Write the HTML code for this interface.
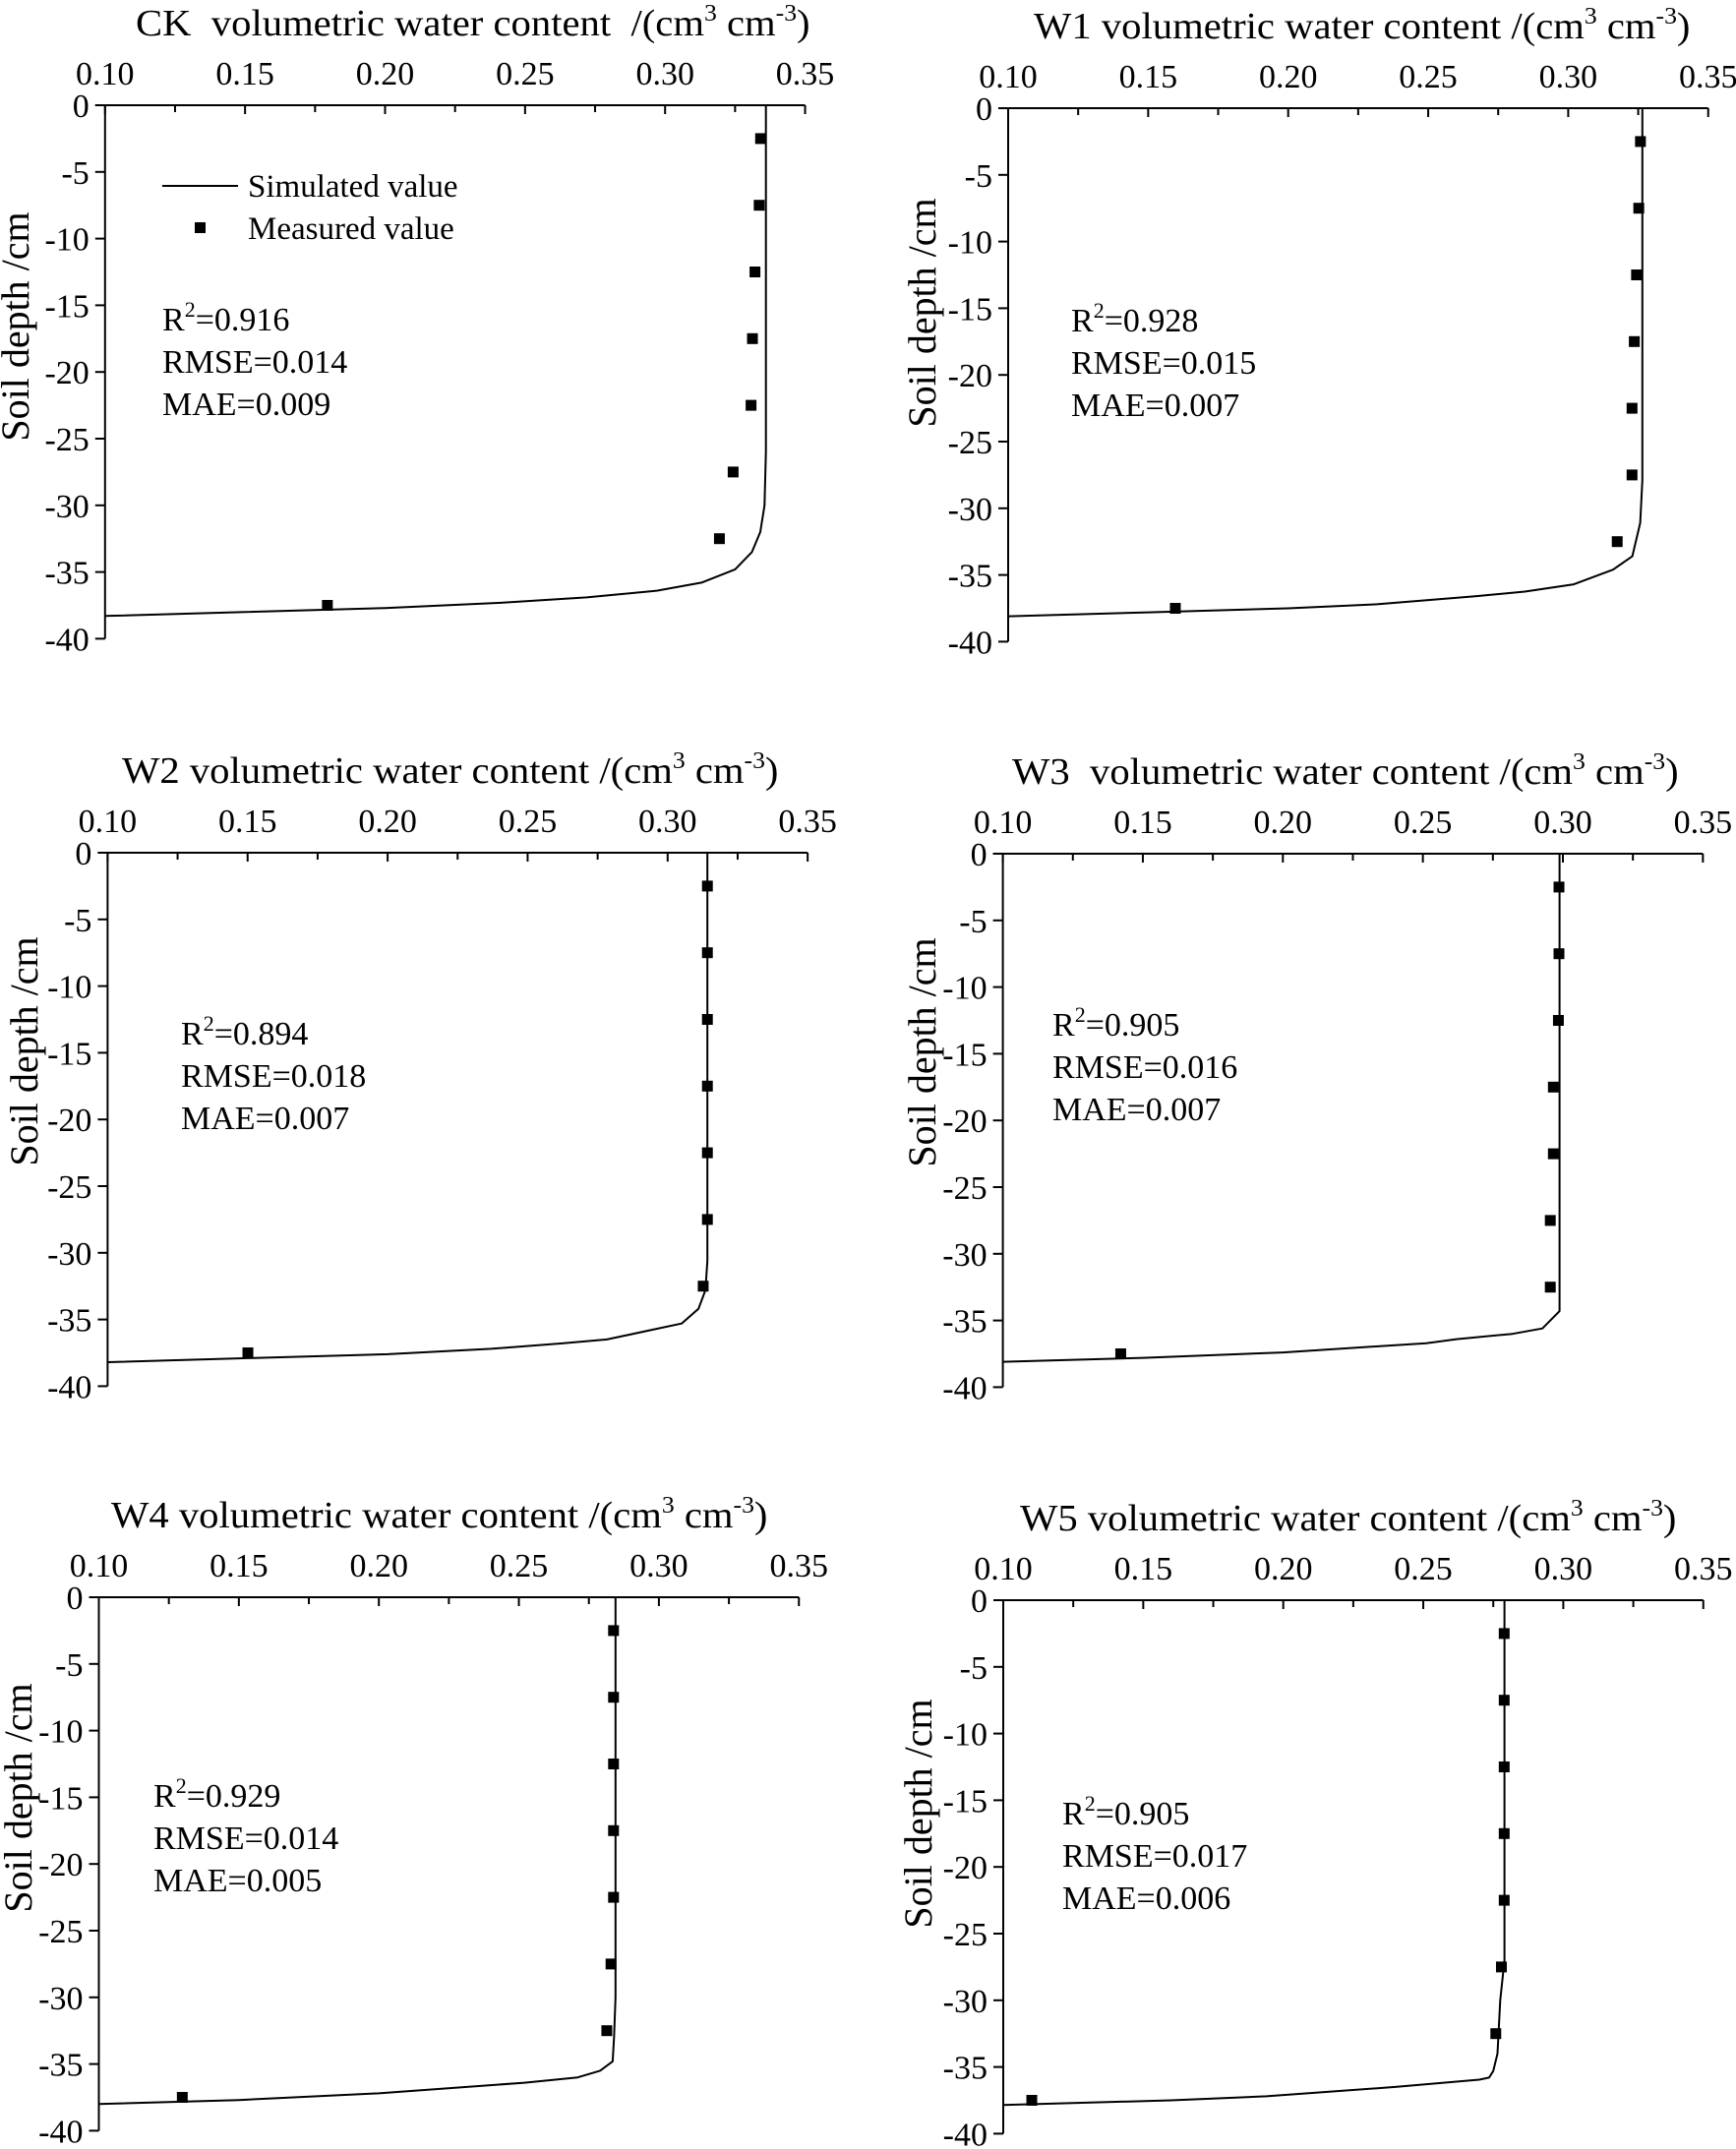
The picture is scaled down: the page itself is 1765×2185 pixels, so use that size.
<!DOCTYPE html>
<html><head><meta charset="utf-8"><style>
html,body{margin:0;padding:0;background:#fff;}
svg{display:block;font-family:"Liberation Serif","Times New Roman",serif;}
</style></head><body>
<svg id="s" width="1765" height="2185" viewBox="0 0 1765 2185" xmlns="http://www.w3.org/2000/svg"></svg>
<script>
var S=document.getElementById('s');var out='';
var XS=2847,YS=13.56;
var panels=[
{n:'CK',x0:106.8,y0:107,tx:138,gap:'  ',
 pts:[.3341,.3336,.3321,.3312,.3307,.3243,.3194,.1794],
 sim:[[.336,0],[.336,-26],[.3355,-30],[.334,-32],[.331,-33.5],[.325,-34.8],[.313,-35.8],[.297,-36.4],[.272,-36.9],[.242,-37.3],[.2,-37.7],[.15,-38.0],[.1,-38.3]],
 st:[165,336],lab:[29,332],legend:true,sv:['0.916','0.014','0.009']},
{n:'W1',x0:1025,y0:110,tx:1051,gap:' ',
 pts:[.3258,.3252,.3244,.3236,.3228,.3228,.3175,.1597],
 sim:[[.3265,0],[.3265,-27.9],[.3257,-31.1],[.3229,-33.6],[.316,-34.6],[.302,-35.7],[.2845,-36.25],[.2668,-36.6],[.2317,-37.2],[.2,-37.5],[.15,-37.8],[.1,-38.1]],
 st:[1089,337],lab:[951,318],sv:['0.928','0.015','0.007']},
{n:'W2',x0:109.4,y0:867,tx:124,gap:' ',
 pts:[.3142,.3142,.3142,.3142,.3142,.3142,.3127,.1501],
 sim:[[.3142,0],[.3142,-30.6],[.3135,-32.8],[.311,-34.2],[.305,-35.3],[.296,-35.7],[.2783,-36.5],[.2617,-36.8],[.237,-37.2],[.2,-37.6],[.15,-37.9],[.1,-38.2]],
 st:[184,1062],lab:[38,1069],sv:['0.894','0.018','0.007']},
{n:'W3',x0:1019.6,y0:868,tx:1029,gap:'  ',
 pts:[.2986,.2986,.2984,.2966,.2966,.2955,.2955,.1421],
 sim:[[.2988,0],[.2988,-34.3],[.2927,-35.6],[.282,-36.0],[.262,-36.4],[.2512,-36.7],[.2,-37.4],[.15,-37.8],[.1,-38.1]],
 st:[1070,1053],lab:[951,1070],sv:['0.905','0.016','0.007']},
{n:'W4',x0:100.5,y0:1624,tx:113,gap:' ',
 pts:[.2838,.2838,.2838,.2838,.2838,.2829,.2814,.1298],
 sim:[[.2845,0],[.2845,-30],[.284,-33],[.2835,-34.8],[.279,-35.5],[.271,-36.0],[.252,-36.4],[.2,-37.2],[.15,-37.7],[.1,-38.0]],
 st:[156,1837],lab:[32,1828],sv:['0.929','0.014','0.005']},
{n:'W5',x0:1020,y0:1627,tx:1037,gap:' ',
 pts:[.2789,.2789,.2789,.2789,.2789,.2779,.2759,.1102],
 sim:[[.279,0],[.279,-27],[.2775,-30],[.277,-32],[.2765,-34],[.275,-35.3],[.2735,-35.8],[.270,-35.95],[.24,-36.5],[.194,-37.2],[.16,-37.5],[.1,-37.85]],
 st:[1080,1855],lab:[947,1844],sv:['0.905','0.017','0.006']}
];
panels.forEach(function(p){
 var X=function(v){return p.x0+(v-0.1)*XS;};
 var Y=function(d){return p.y0-d*YS;};
 var xe=X(0.35),ye=Y(-40);
 out+='<line x1="'+(p.x0-10)+'" y1="'+p.y0+'" x2="'+xe+'" y2="'+p.y0+'" stroke="#000" stroke-width="2"/>';
 out+='<line x1="'+p.x0+'" y1="'+p.y0+'" x2="'+p.x0+'" y2="'+ye+'" stroke="#000" stroke-width="2"/>';
 for(var i=0;i<=10;i++){var xv=p.x0+i*XS*0.025;
  out+='<line x1="'+xv+'" y1="'+p.y0+'" x2="'+xv+'" y2="'+(p.y0+(i%2?7:9))+'" stroke="#000" stroke-width="2"/>';
  if(i%2==0){out+='<text x="'+xv+'" y="'+(p.y0-21)+'" font-size="34" text-anchor="middle">'+(0.1+i*0.025).toFixed(2)+'</text>';}
 }
 for(var j=0;j<=8;j++){var yv=p.y0+j*5*YS;
  out+='<line x1="'+(p.x0-10)+'" y1="'+yv+'" x2="'+p.x0+'" y2="'+yv+'" stroke="#000" stroke-width="2"/>';
  out+='<text x="'+(p.x0-16)+'" y="'+(yv+12)+'" font-size="34" text-anchor="end">'+(j==0?'0':'-'+j*5)+'</text>';
 }
 out+='<text transform="translate('+p.tx+','+(p.y0-71)+') scale(1.07,1)" font-size="38" xml:space="preserve">'+p.n+p.gap+'volumetric water content '+(p.n=='CK'?' ':'')+'/(cm<tspan font-size="24" dy="-15">3</tspan><tspan dy="15"> cm</tspan><tspan font-size="24" dy="-15">-3</tspan><tspan dy="15">)</tspan></text>';
 out+='<text transform="translate('+p.lab[0]+','+p.lab[1]+') rotate(-90)" font-size="40" text-anchor="middle">Soil depth /cm</text>';
 var d='';p.sim.forEach(function(q,k){d+=(k?'L':'M')+X(q[0]).toFixed(1)+' '+Y(q[1]).toFixed(1);});
 out+='<path d="'+d+'" fill="none" stroke="#000" stroke-width="2" stroke-linejoin="round"/>';
 p.pts.forEach(function(v,k){var dd=-2.5-5*k;out+='<rect x="'+(X(v)-5.5)+'" y="'+(Y(dd)-5.5)+'" width="11" height="11" fill="#000"/>';});
 var sx=p.st[0],sy=p.st[1];
 out+='<text x="'+sx+'" y="'+sy+'" font-size="34">R<tspan font-size="22" dy="-14">2</tspan><tspan dy="14">=</tspan>'+p.sv[0]+'</text>';
 out+='<text x="'+sx+'" y="'+(sy+43)+'" font-size="34">RMSE='+p.sv[1]+'</text>';
 out+='<text x="'+sx+'" y="'+(sy+86)+'" font-size="34">MAE='+p.sv[2]+'</text>';
 if(p.legend){
  out+='<line x1="165" y1="189" x2="242" y2="189" stroke="#000" stroke-width="2"/>';
  out+='<text x="252" y="200" font-size="33">Simulated value</text>';
  out+='<rect x="198" y="226" width="11" height="11" fill="#000"/>';
  out+='<text x="252" y="243" font-size="33">Measured value</text>';
 }
});
S.innerHTML=out;
</script>
</body></html>
